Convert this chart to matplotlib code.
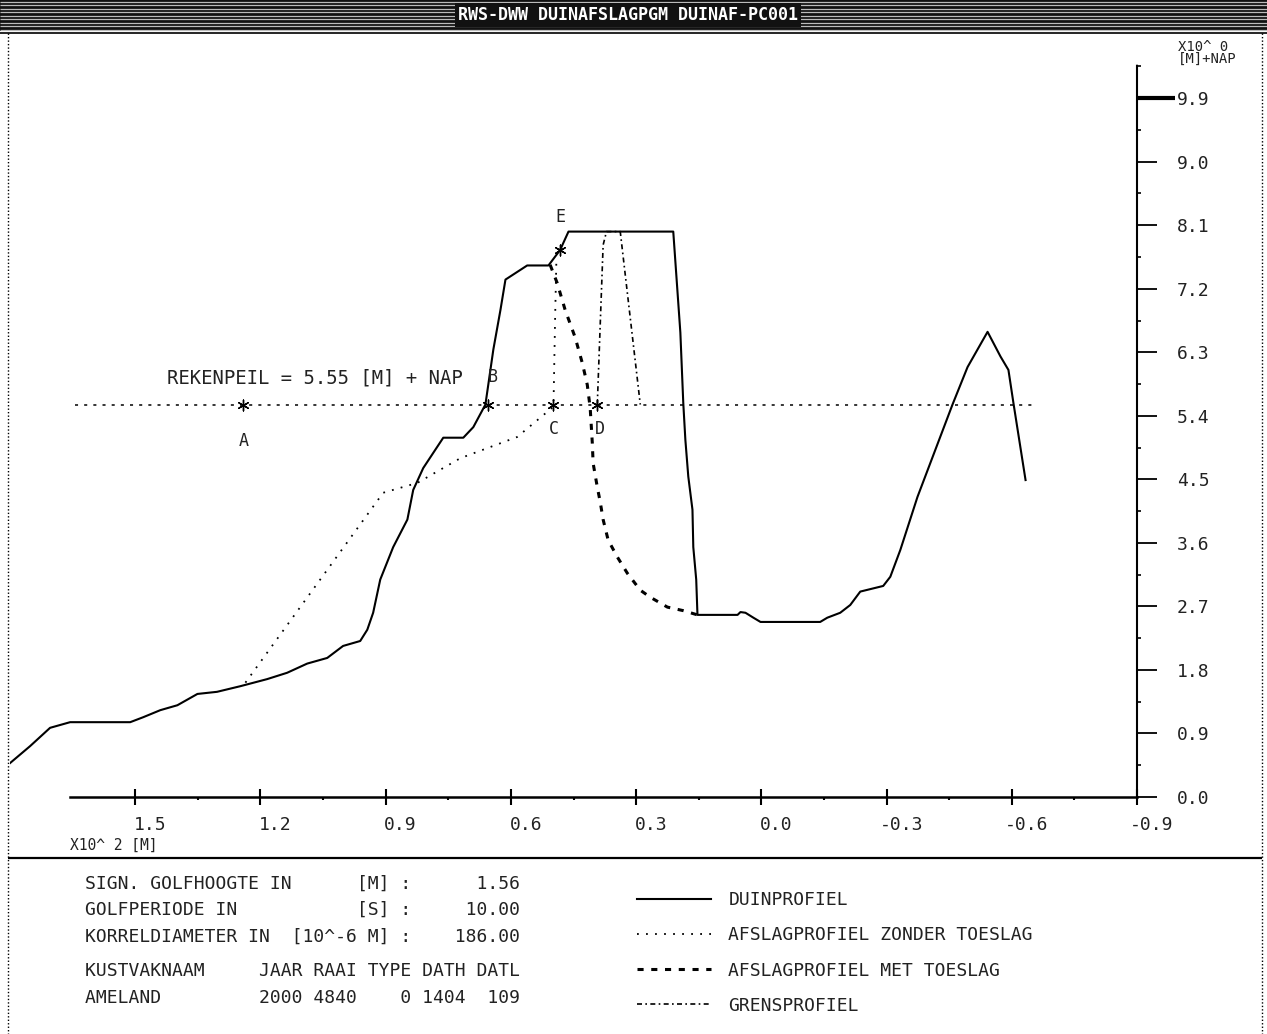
import numpy as np
import matplotlib
matplotlib.use("Agg")
import matplotlib.pyplot as plt
from matplotlib.patches import Rectangle
from matplotlib.ticker import FixedLocator
import matplotlib.transforms as mtransforms

# duinprofiel: afstand [x100 m], hoogte [m + NAP]
duin_x = [1.80, 1.752, 1.704, 1.656, 1.512, 1.481, 1.440, 1.399, 1.351, 1.304,
          1.248, 1.184, 1.136, 1.088, 1.040, 1.002, 0.961, 0.944, 0.930, 0.913,
          0.882, 0.848, 0.834, 0.810, 0.762, 0.714, 0.690, 0.661, 0.642, 0.625,
          0.613, 0.561, 0.510, 0.482, 0.462, 0.211, 0.194, 0.187, 0.182, 0.175,
          0.165, 0.163, 0.156, 0.153, 0.057, 0.050, 0.038, 0.019, 0.002, -0.141,
          -0.158, -0.189, -0.213, -0.237, -0.292, -0.309, -0.333, -0.374, -0.458,
          -0.494, -0.542, -0.573, -0.592, -0.604, -0.633]
duin_y = [0.48, 0.72, 0.98, 1.06, 1.06, 1.13, 1.23, 1.30, 1.46, 1.49,
          1.57, 1.67, 1.76, 1.89, 1.97, 2.14, 2.21, 2.37, 2.61, 3.08,
          3.54, 3.93, 4.35, 4.66, 5.09, 5.09, 5.24, 5.56, 6.34, 6.90,
          7.33, 7.53, 7.53, 7.75, 8.01, 8.01, 6.58, 5.58, 5.06, 4.54,
          4.07, 3.54, 3.08, 2.58, 2.58, 2.62, 2.61, 2.54, 2.48, 2.48,
          2.54, 2.61, 2.72, 2.91, 2.99, 3.12, 3.50, 4.25, 5.56,
          6.09, 6.59, 6.24, 6.05, 5.58, 4.49]

# afslagprofiel zonder toeslag
zonder_x = [1.236, 0.906, 0.824, 0.721, 0.585, 0.498, 0.494, 0.491]
zonder_y = [1.62, 4.31, 4.45, 4.80, 5.10, 5.53, 6.80, 7.61]

# afslagprofiel met toeslag
met_x = [0.506, 0.489, 0.470, 0.446, 0.429, 0.417, 0.410, 0.405, 0.403, 0.393,
         0.386, 0.379, 0.367, 0.345, 0.321, 0.290, 0.266, 0.225, 0.187, 0.153]
met_y = [7.54, 7.28, 6.90, 6.51, 6.15, 5.84, 5.51, 5.02, 4.73, 4.39,
         4.18, 3.93, 3.64, 3.40, 3.17, 2.93, 2.83, 2.69, 2.64, 2.58]

# grensprofiel
grens_x = [0.393, 0.379, 0.371, 0.338, 0.290]
grens_y = [5.56, 7.82, 8.01, 8.01, 5.56]

rekenpeil = 5.55
rekenpeil_x = [1.644, -0.657]

punt_namen = ['A', 'B', 'C', 'D', 'E']
punt_x = [1.241, 0.654, 0.498, 0.393, 0.482]
punt_y = [5.55, 5.55, 5.55, 5.55, 7.75]

x_ticks = [1.5, 1.2, 0.9, 0.6, 0.3, 0.0, -0.3, -0.6, -0.9]
y_ticks = [0.0, 0.9, 1.8, 2.7, 3.6, 4.5, 5.4, 6.3, 7.2, 8.1, 9.0, 9.9]

invoer_regels = [
    "SIGN. GOLFHOOGTE IN      [M] :      1.56",
    "GOLFPERIODE IN           [S] :     10.00",
    "KORRELDIAMETER IN  [10^-6 M] :    186.00",
    "",
    "KUSTVAKNAAM     JAAR RAAI TYPE DATH DATL",
    "AMELAND         2000 4840    0 1404  109",
]
legenda = ["DUINPROFIEL", "AFSLAGPROFIEL ZONDER TOESLAG",
           "AFSLAGPROFIEL MET TOESLAG", "GRENSPROFIEL"]
titel = "RWS-DWW DUINAFSLAGPGM DUINAF-PC001"

plt.rcParams['font.family'] = ['DejaVu Sans Mono']

W, H = 1267, 1034
fig = plt.figure(figsize=(W / 100, H / 100), dpi=100)

# overlay in pixels for frame and text panel
bg = fig.add_axes([0, 0, 1, 1])
bg.set_xlim(0, W)
bg.set_ylim(H, 0)
bg.axis('off')

bg.add_patch(Rectangle((0, 0), W, 31, facecolor='#111111', edgecolor='none'))
bg.hlines(np.arange(1.5, 31, 3.5), 0, W, color='#bbbbbb', lw=0.9)
bg.text(628, 15, titel, color='white', fontsize=12, ha='center', va='center',
        fontweight='bold', bbox=dict(facecolor='#111111', edgecolor='none', pad=2))
bg.hlines(33, 0, W, color='black', lw=1.2)
bg.vlines([8, 1262], 33, H, color='black', lw=1, linestyles=(0, (1, 1.5)))
bg.hlines(858, 8, 1262, color='black', lw=1.6)

for i, regel in enumerate(invoer_regels):
    ypos = [884, 910, 937, 954, 971, 998][i]
    bg.text(85, ypos, regel, fontsize=13, va='center', ha='left', color='#222222')

# profile axes
ax = fig.add_axes([10 / W, (H - 797) / H, 1127 / W, (797 - 65) / H])
ax.set_xlim(1.8, -0.9)
ax.set_ylim(0, 10.37)
ax.patch.set_alpha(0)

l1, = ax.plot(duin_x, duin_y, color='black', lw=1.5)
l2, = ax.plot(zonder_x, zonder_y, color='black', lw=1.3, ls=(0, (1, 4)))
l3, = ax.plot(met_x, met_y, color='black', lw=2.2, ls=(0, (2, 2.5)))
l4, = ax.plot(grens_x, grens_y, color='black', lw=1.2, ls=(0, (3, 2, 1, 2)))

ax.hlines(rekenpeil, rekenpeil_x[0], rekenpeil_x[1], color='black', lw=1.1,
          linestyles=(0, (2, 4)))
ax.text(1.425, rekenpeil + 0.38, "REKENPEIL = %.2f [M] + NAP" % rekenpeil,
        fontsize=13.6, ha='left', va='center', color='#222222')

ax.scatter(punt_x, punt_y, marker=(6, 2, 0), s=60, color='black', lw=1)
label_offset = {'A': (0, -26), 'B': (3, 20), 'C': (0, -17), 'D': (2, -17), 'E': (0, 24)}
for naam, px, py in zip(punt_namen, punt_x, punt_y):
    ax.annotate(naam, (px, py), xytext=label_offset[naam], textcoords='offset points',
                ha='center', va='center', fontsize=12, color='#222222')

for s in ['top', 'left']:
    ax.spines[s].set_visible(False)
ax.spines['bottom'].set_bounds(1.656, -0.9)
ax.spines['bottom'].set_linewidth(1.8)
ax.spines['right'].set_linewidth(1.5)
ax.spines['right'].set_linestyle((0, (3, 1)))

ax.xaxis.set_major_locator(FixedLocator(x_ticks))
ax.xaxis.set_minor_locator(FixedLocator([t - 0.15 for t in x_ticks[:-1]]))
ax.set_xticklabels(["%.1f" % t for t in x_ticks])
ax.tick_params(axis='x', which='major', direction='inout', length=12, width=1.5,
               pad=8, labelsize=13, labelcolor='#222222')
ax.tick_params(axis='x', which='minor', direction='out', length=2.5, width=1.5)
shift = mtransforms.ScaledTranslation(0.15, 0, fig.dpi_scale_trans)
for lab in ax.get_xticklabels():
    lab.set_transform(lab.get_transform() + shift)

ax.yaxis.set_label_position('right')
ax.yaxis.tick_right()
ax.yaxis.set_major_locator(FixedLocator(y_ticks))
ax.yaxis.set_minor_locator(FixedLocator([t + 0.45 for t in y_ticks]))
ax.set_yticklabels(["%.1f" % t for t in y_ticks])
ax.tick_params(axis='y', which='major', direction='out', length=14.5, width=1.3,
               pad=14, labelsize=13, labelcolor='#222222')
ax.tick_params(axis='y', which='minor', direction='out', length=3, width=1.2)
top_tick = ax.yaxis.get_major_ticks()[-1]
top_tick.tick2line.set_markersize(27)
top_tick.tick2line.set_markeredgewidth(3)

bg.text(70, 845, "X10^ 2 [M]", fontsize=10.5, ha='left', va='center', color='#222222')
bg.text(1178, 47, "X10^ 0", fontsize=10, ha='left', va='center', color='#222222')
bg.text(1178, 59, "[M]+NAP", fontsize=10, ha='left', va='center', color='#222222')

fig.legend([l1, l2, l3, l4], legenda, loc='upper left',
           bbox_to_anchor=(621 / W, (H - 875) / H), frameon=False,
           prop={'family': 'DejaVu Sans Mono', 'size': 13}, handlelength=4.1,
           handletextpad=0.95, labelspacing=0.95, labelcolor='#222222')

fig.savefig("out.png", dpi=100)
